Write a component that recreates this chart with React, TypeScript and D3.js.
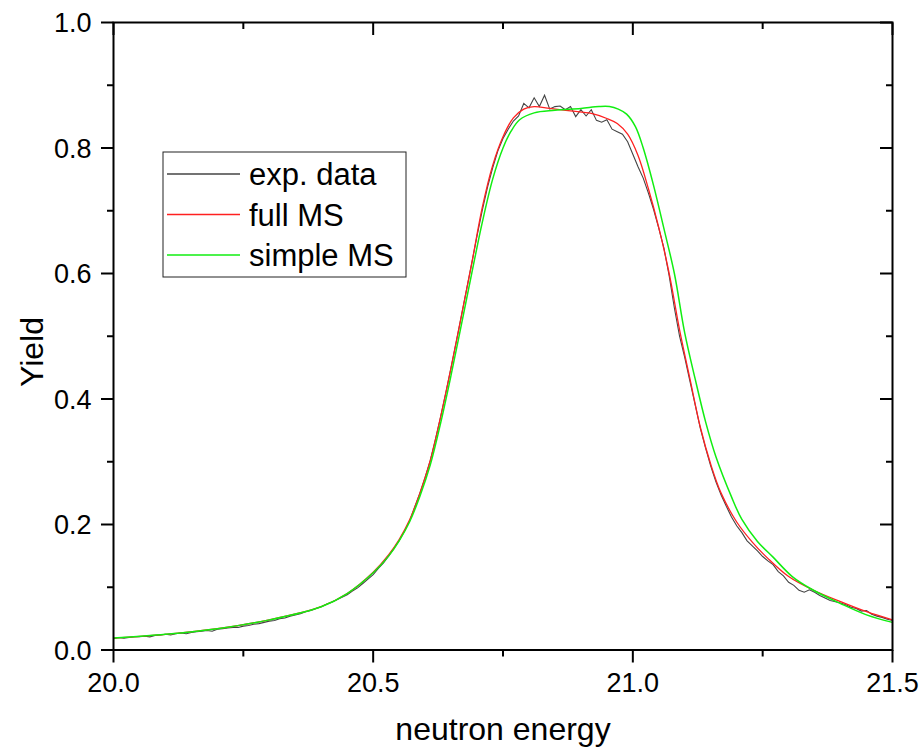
import React from "react";
import * as d3 from "d3";

const xTicksMajor = [20.0, 20.5, 21.0, 21.5];
const xTicksMinor = [20.25, 20.75, 21.25];
const yTicksMajor = [0.0, 0.2, 0.4, 0.6, 0.8, 1.0];
const yTicksMinor = [0.1, 0.3, 0.5, 0.7, 0.9];

const fullX = [20.0, 20.1, 20.2, 20.3, 20.4, 20.45, 20.5, 20.53, 20.55, 20.57, 20.59, 20.61, 20.63, 20.65, 20.67, 20.69, 20.71, 20.73, 20.75, 20.77, 20.79, 20.81, 20.84, 20.88, 20.92, 20.95, 20.97, 20.99, 21.01, 21.03, 21.05, 21.07, 21.09, 21.11, 21.13, 21.15, 21.17, 21.2, 21.23, 21.26, 21.3, 21.346, 21.4, 21.45, 21.5];
const fullY = [0.019, 0.025, 0.034, 0.048, 0.069, 0.09, 0.124, 0.152, 0.176, 0.207, 0.25, 0.302, 0.372, 0.45, 0.533, 0.617, 0.705, 0.772, 0.818, 0.848, 0.862, 0.866, 0.863, 0.859, 0.855, 0.847, 0.839, 0.822, 0.788, 0.735, 0.673, 0.6, 0.51, 0.432, 0.355, 0.296, 0.25, 0.204, 0.172, 0.146, 0.117, 0.096, 0.077, 0.061, 0.048];

const simpleX = [20.0, 20.1, 20.2, 20.3, 20.4, 20.45, 20.5, 20.53, 20.55, 20.57, 20.59, 20.61, 20.63, 20.65, 20.67, 20.69, 20.71, 20.73, 20.75, 20.765, 20.782, 20.81, 20.85, 20.9, 20.935, 20.955, 20.972, 20.988, 21.005, 21.02, 21.04, 21.06, 21.08, 21.1, 21.12, 21.14, 21.16, 21.19, 21.21, 21.24, 21.27, 21.307, 21.346, 21.4, 21.45, 21.5];
const simpleY = [0.019, 0.025, 0.034, 0.048, 0.069, 0.09, 0.123, 0.15, 0.174, 0.204, 0.245, 0.295, 0.362, 0.438, 0.519, 0.601, 0.681, 0.75, 0.8, 0.826, 0.845, 0.856, 0.86, 0.863, 0.866, 0.866, 0.862, 0.854, 0.834, 0.8, 0.74, 0.671, 0.6, 0.505, 0.432, 0.364, 0.308, 0.244, 0.208, 0.173, 0.148, 0.117, 0.096, 0.074, 0.056, 0.044];

const expX = d3.range(0, 151).map((i) => 20 + i * 0.01);
const expY = [
  0.018, 0.02, 0.019, 0.02, 0.021, 0.021, 0.022, 0.021, 0.023, 0.024,
  0.025, 0.024, 0.026, 0.027, 0.026, 0.028, 0.029, 0.03, 0.031, 0.03,
  0.033, 0.034, 0.035, 0.036, 0.036, 0.038, 0.039, 0.041, 0.042, 0.044,
  0.046, 0.047, 0.05, 0.051, 0.054, 0.056, 0.058, 0.061, 0.063, 0.066,
  0.069, 0.073, 0.076, 0.08, 0.084, 0.088, 0.094, 0.099, 0.106, 0.113,
  0.12, 0.13, 0.139, 0.15, 0.162, 0.174, 0.189, 0.205, 0.228, 0.25,
  0.275, 0.302, 0.336, 0.372, 0.41, 0.45, 0.491, 0.533, 0.575, 0.617,
  0.66, 0.7, 0.737, 0.768, 0.795, 0.815, 0.83, 0.843, 0.851, 0.871,
  0.864, 0.88, 0.866, 0.884, 0.862, 0.866, 0.867, 0.861, 0.866, 0.85,
  0.861, 0.851, 0.861, 0.844, 0.841, 0.845, 0.83, 0.826, 0.822, 0.81,
  0.79, 0.77, 0.752, 0.728, 0.702, 0.672, 0.64, 0.596, 0.545, 0.5,
  0.466, 0.428, 0.391, 0.353, 0.322, 0.293, 0.268, 0.247, 0.229, 0.212,
  0.198, 0.187, 0.174, 0.166, 0.158, 0.149, 0.142, 0.136, 0.125, 0.118,
  0.108, 0.103, 0.095, 0.092, 0.096, 0.092, 0.087, 0.083, 0.079, 0.077,
  0.075, 0.072, 0.068, 0.066, 0.062, 0.063, 0.057, 0.054, 0.052, 0.049,
  0.047,
];

const legendLabels = ["exp. data", "full MS", "simple MS"];
const seriesColors = ["#444444", "#ff2020", "#11ee11"];

const FONT = "'Liberation Sans', Arial, sans-serif";

export default function App() {
  const W = 922;
  const H = 751;
  const left = 113.5;
  const right = 892.5;
  const top = 22.5;
  const bottom = 650;

  const x = d3.scaleLinear().domain([20, 21.5]).range([left, right]);
  const y = d3.scaleLinear().domain([0, 1]).range([bottom, top]);

  const smooth = d3
    .line<[number, number]>()
    .x((d) => x(d[0]))
    .y((d) => y(d[1]))
    .curve(d3.curveCatmullRom.alpha(0.5));
  const raw = d3
    .line<[number, number]>()
    .x((d) => x(d[0]))
    .y((d) => y(d[1]));

  const expPts = expX.map((v, i) => [v, expY[i]] as [number, number]);
  const fullPts = fullX.map((v, i) => [v, fullY[i]] as [number, number]);
  const simplePts = simpleX.map((v, i) => [v, simpleY[i]] as [number, number]);

  const major = 12.5;
  const minor = 6.5;

  return (
    <svg
      width={W}
      height={H}
      style={{ position: "absolute", left: 0, top: 0, background: "#fff" }}
      fontFamily={FONT}
    >
      <rect x={0} y={0} width={W} height={H} fill="#fff" />
      <defs>
        <clipPath id="plotclip">
          <rect x={left} y={top} width={right - left} height={bottom - top} />
        </clipPath>
      </defs>

      <g clipPath="url(#plotclip)" fill="none">
        <path d={raw(expPts) || ""} stroke={seriesColors[0]} strokeWidth={1.1} />
        <path d={smooth(fullPts) || ""} stroke={seriesColors[1]} strokeWidth={1.3} />
        <path d={smooth(simplePts) || ""} stroke={seriesColors[2]} strokeWidth={1.5} />
      </g>

      <rect
        x={left}
        y={top}
        width={right - left}
        height={bottom - top}
        fill="none"
        stroke="#000"
        strokeWidth={2}
      />

      {xTicksMajor.map((t) => (
        <g key={"xM" + t}>
          <line x1={x(t)} x2={x(t)} y1={bottom} y2={bottom + major} stroke="#000" strokeWidth={2} />
          <line x1={x(t)} x2={x(t)} y1={top} y2={top + major} stroke="#000" strokeWidth={2} />
          <text x={x(t)} y={bottom + 42} textAnchor="middle" fontSize={27} fill="#000">
            {t.toFixed(1)}
          </text>
        </g>
      ))}
      {xTicksMinor.map((t) => (
        <g key={"xm" + t}>
          <line x1={x(t)} x2={x(t)} y1={bottom} y2={bottom + minor} stroke="#000" strokeWidth={2} />
          <line x1={x(t)} x2={x(t)} y1={top} y2={top + minor} stroke="#000" strokeWidth={2} />
        </g>
      ))}

      {yTicksMajor.map((t) => (
        <g key={"yM" + t}>
          <line x1={left - major} x2={left} y1={y(t)} y2={y(t)} stroke="#000" strokeWidth={2} />
          <line x1={right - major} x2={right} y1={y(t)} y2={y(t)} stroke="#000" strokeWidth={2} />
          <text x={left - 22} y={y(t) + 9.5} textAnchor="end" fontSize={27} fill="#000">
            {t.toFixed(1)}
          </text>
        </g>
      ))}
      {yTicksMinor.map((t) => (
        <g key={"ym" + t}>
          <line x1={left - minor} x2={left} y1={y(t)} y2={y(t)} stroke="#000" strokeWidth={2} />
          <line x1={right - minor} x2={right} y1={y(t)} y2={y(t)} stroke="#000" strokeWidth={2} />
        </g>
      ))}

      <text x={(left + right) / 2} y={740} textAnchor="middle" fontSize={32} fill="#000">
        neutron energy
      </text>
      <text transform={`translate(43, 352) rotate(-90)`} textAnchor="middle" fontSize={32} fill="#000">
        Yield
      </text>

      <rect x={163} y={152} width={243} height={125} fill="#fff" stroke="#222" strokeWidth={1} />
      {legendLabels.map((lab, i) => (
        <g key={lab}>
          <line
            x1={167}
            x2={240}
            y1={174 + i * 40.5}
            y2={174 + i * 40.5}
            stroke={seriesColors[i]}
            strokeWidth={1.3}
          />
          <text x={249} y={185 + i * 40.5} fontSize={31} fill="#000">
            {lab}
          </text>
        </g>
      ))}
    </svg>
  );
}
